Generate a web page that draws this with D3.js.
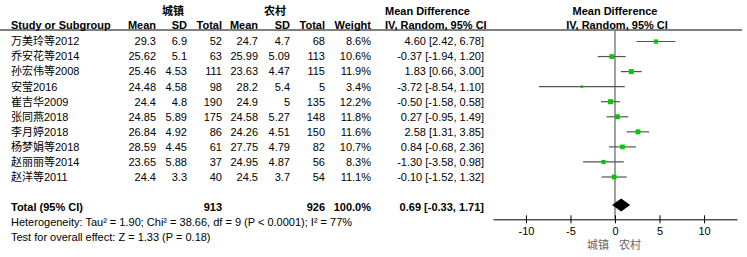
<!DOCTYPE html>
<html>
<head>
<meta charset="utf-8">
<script src="https://cdn.jsdelivr.net/npm/d3@7"></script>
<style>
  body { margin: 0; background: #ffffff; }
  text { font-family: "Liberation Sans", Arial, "Noto Sans CJK SC", sans-serif; font-size: 11px; fill: #000; }
</style>
</head>
<body>
<div id="chart"></div>
<script>
const studies = ["万美玲等2012", "乔安花等2014", "孙宏伟等2008", "安莹2016", "崔吉华2009",
  "张同燕2018", "李月婷2018", "杨梦娟等2018", "赵丽丽等2014", "赵洋等2011"];
const urbanMean = ["29.3", "25.62", "25.46", "24.48", "24.4", "24.85", "26.84", "28.59", "23.65", "24.4"];
const urbanSD = ["6.9", "5.1", "4.53", "4.58", "4.8", "5.89", "4.92", "4.45", "5.88", "3.3"];
const urbanN = [52, 63, 111, 98, 190, 175, 86, 61, 37, 40];
const ruralMean = ["24.7", "25.99", "23.63", "28.2", "24.9", "24.58", "24.26", "27.75", "24.95", "24.5"];
const ruralSD = ["4.7", "5.09", "4.47", "5.4", "5", "5.27", "4.51", "4.79", "4.87", "3.7"];
const ruralN = [68, 113, 115, 5, 135, 148, 150, 82, 56, 54];
const weights = [8.6, 10.6, 11.9, 3.4, 12.2, 11.8, 11.6, 10.7, 8.3, 11.1];
const md = [4.60, -0.37, 1.83, -3.72, -0.50, 0.27, 2.58, 0.84, -1.30, -0.10];
const lo = [2.42, -1.94, 0.66, -8.54, -1.58, -0.95, 1.31, -0.68, -3.58, -1.52];
const hi = [6.78, 1.20, 3.00, 1.10, 0.58, 1.49, 3.85, 2.36, 0.98, 1.32];
const total = {urbanN: 913, ruralN: 926, weight: "100.0%", md: 0.69, lo: -0.33, hi: 1.71};
const xTicks = [-10, -5, 0, 5, 10];

const width = 747, height = 257;

const svg = d3.select("#chart")
  .append("svg")
  .attr("width", width)
  .attr("height", height);

svg.append("rect").attr("width", width).attr("height", height).attr("fill", "#fff");

const x = d3.scaleLinear().domain([-13.7, 13.7]).range([493, 737]);
const y = d3.scaleLinear().domain([0, studies.length - 1]).range([41.5, 177]);
const totalY = 207.5, axisY = 219.3, headerLineY = 30;

// plain hyphen for negatives, like the original
const f2 = v => v.toFixed(2);
const ciText = (m, l, h) => `${f2(m)} [${f2(l)}, ${f2(h)}]`;

// columns: right edge x, values
const cols = [
  {x: 156, head: "Mean", vals: urbanMean},
  {x: 187, head: "SD", vals: urbanSD},
  {x: 222, head: "Total", vals: urbanN},
  {x: 258, head: "Mean", vals: ruralMean},
  {x: 290, head: "SD", vals: ruralSD},
  {x: 325, head: "Total", vals: ruralN},
  {x: 371, head: "Weight", vals: weights.map(w => w.toFixed(1) + "%")},
  {x: 484, head: null, vals: md.map((m, i) => ciText(m, lo[i], hi[i]))}
];

// group headers
svg.append("text").attr("x", 173).attr("y", 11).attr("dy", "0.35em")
  .attr("text-anchor", "middle").style("font-weight", "bold").text("城镇");
svg.append("text").attr("x", 275).attr("y", 11).attr("dy", "0.35em")
  .attr("text-anchor", "middle").style("font-weight", "bold").text("农村");
svg.append("text").attr("x", 385).attr("y", 11).attr("dy", "0.35em")
  .style("font-weight", "bold").text("Mean Difference");
svg.append("text").attr("x", 615).attr("y", 11).attr("dy", "0.35em")
  .attr("text-anchor", "middle").style("font-weight", "bold").text("Mean Difference");

// column headers
svg.append("text").attr("x", 11).attr("y", 25).attr("dy", "0.35em")
  .style("font-weight", "bold").text("Study or Subgroup");
cols.filter(c => c.head).forEach(c => {
  svg.append("text").attr("x", c.x).attr("y", 25).attr("dy", "0.35em")
    .attr("text-anchor", "end").style("font-weight", "bold").text(c.head);
});
svg.append("text").attr("x", 385).attr("y", 25).attr("dy", "0.35em")
  .style("font-weight", "bold").text("IV, Random, 95% CI");
svg.append("text").attr("x", 617).attr("y", 25).attr("dy", "0.35em")
  .attr("text-anchor", "middle").style("font-weight", "bold").text("IV, Random, 95% CI");

svg.append("line")
  .attr("x1", 0).attr("x2", 742)
  .attr("y1", headerLineY).attr("y2", headerLineY)
  .attr("stroke", "#000").attr("stroke-width", 1);

// study rows
svg.selectAll(".study")
  .data(studies)
  .enter().append("text")
  .attr("x", 11)
  .attr("y", (d, i) => y(i))
  .attr("dy", "0.35em")
  .text(d => d);

cols.forEach(c => {
  svg.append("g").selectAll("text")
    .data(c.vals)
    .enter().append("text")
    .attr("x", c.x)
    .attr("y", (d, i) => y(i))
    .attr("dy", "0.35em")
    .attr("text-anchor", "end")
    .text(d => d);
});

// total row
const totalRow = [
  {x: 11, anchor: "start", t: "Total (95% CI)"},
  {x: 222, anchor: "end", t: total.urbanN},
  {x: 325, anchor: "end", t: total.ruralN},
  {x: 371, anchor: "end", t: total.weight},
  {x: 484, anchor: "end", t: ciText(total.md, total.lo, total.hi)}
];
totalRow.forEach(d => {
  svg.append("text").attr("x", d.x).attr("y", totalY).attr("dy", "0.35em")
    .attr("text-anchor", d.anchor).style("font-weight", "bold").text(d.t);
});

svg.append("text").attr("x", 11).attr("y", 222).attr("dy", "0.35em")
  .text("Heterogeneity: Tau² = 1.90; Chi² = 38.66, df = 9 (P < 0.0001); I² = 77%");
svg.append("text").attr("x", 11).attr("y", 237.5).attr("dy", "0.35em")
  .text("Test for overall effect: Z = 1.33 (P = 0.18)");

// forest plot
svg.append("line")
  .attr("x1", x(0)).attr("x2", x(0))
  .attr("y1", headerLineY).attr("y2", axisY)
  .attr("stroke", "#808080").attr("stroke-width", 1.5);

svg.append("g").selectAll("line")
  .data(md)
  .enter().append("line")
  .attr("x1", (d, i) => x(lo[i]))
  .attr("x2", (d, i) => x(hi[i]))
  .attr("y1", (d, i) => y(i))
  .attr("y2", (d, i) => y(i))
  .attr("stroke", "#555")
  .attr("stroke-width", 1.2);

const sq = w => 5 * Math.sqrt(w / 12.2);
svg.append("g").selectAll("rect")
  .data(md)
  .enter().append("rect")
  .attr("x", (d, i) => x(d) - sq(weights[i]) / 2)
  .attr("y", (d, i) => y(i) - sq(weights[i]) / 2)
  .attr("width", (d, i) => sq(weights[i]))
  .attr("height", (d, i) => sq(weights[i]))
  .attr("fill", "#00c800");

svg.append("path")
  .attr("d", `M${x(total.lo)},${totalY - 2.5} L${x(total.md)},${totalY - 9} L${x(total.hi)},${totalY - 2.5} L${x(total.md)},${totalY + 4} Z`)
  .attr("fill", "#000");

// axis
const axis = svg.append("g")
  .attr("transform", `translate(0,${axisY})`)
  .call(d3.axisBottom(x).tickValues(xTicks).tickFormat(d => String(d))
    .tickSize(4).tickPadding(4).tickSizeOuter(0));
axis.select(".domain").attr("stroke", "#000");
axis.selectAll(".tick line").attr("y1", -4).attr("stroke", "#000");
axis.selectAll(".tick text")
  .style("font-family", "Liberation Sans, Arial, sans-serif")
  .style("font-size", "11px")
  .attr("fill", "#000");

svg.append("text").attr("x", 598).attr("y", 245).attr("dy", "0.35em")
  .attr("text-anchor", "middle").style("fill", "#666").text("城镇");
svg.append("text").attr("x", 630).attr("y", 245).attr("dy", "0.35em")
  .attr("text-anchor", "middle").style("fill", "#666").text("农村");
</script>
</body>
</html>
